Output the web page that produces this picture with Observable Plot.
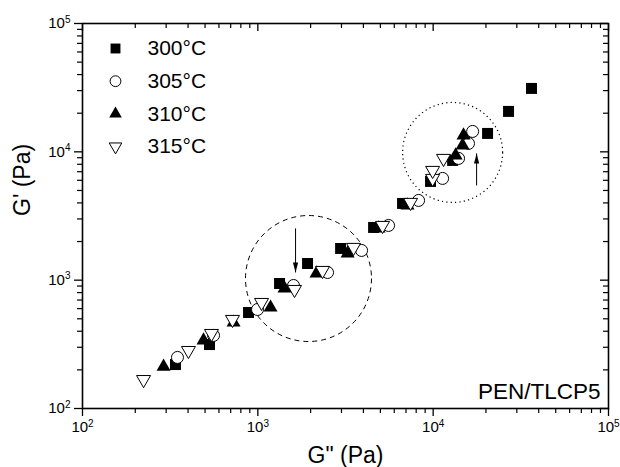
<!DOCTYPE html>
<html><head><meta charset="utf-8">
<script src="https://cdn.jsdelivr.net/npm/d3@7"></script>
<script src="https://cdn.jsdelivr.net/npm/@observablehq/plot@0.6"></script>
<style>body{margin:0;background:#fff} #chart{width:620px;height:467px}</style>
</head><body><div id="chart"></div>
<script>
// Series names
const seriesNames = ["300°C", "305°C", "310°C", "315°C"];

// G'' (x) and G' (y) values, Pa
const gpp300 = [339, 530, 885, 1330, 1921, 2965, 4573, 6689, 9660, 12910, 20430, 26910, 36380];
const gp300  = [220, 315, 560, 942, 1349, 1766, 2575, 3961, 5878, 8570, 13910, 20650, 31190];

const gpp305 = [348, 559, 996, 1598, 2498, 3906, 5567, 8258, 11320, 13960, 15910, 16790];
const gp305  = [250, 371, 591, 909, 1148, 1704, 2669, 4180, 6205, 8883, 11630, 14420];

const gpp310 = [290, 490, 727, 1182, 1420, 2162, 3250, 4885, 7143, 13430, 14720, 14900];
const gp310  = [212, 339, 468, 612, 862, 1128, 1615, 2530, 3822, 9380, 11220, 13420];

const gpp315 = [223, 402, 544, 717, 1050, 1619, 2339, 3515, 5143, 7432, 9930, 9930, 11460];
const gp315  = [168, 283, 384, 494, 670, 846, 1190, 1799, 2669, 4034, 6205, 7161, 8883];

// Axis ticks
const majorTicks = [1e2, 1e3, 1e4, 1e5];
const tickLabels = ["10^2", "10^3", "10^4", "10^5"];
const minorMultipliers = [2, 3, 4, 5, 6, 7, 8, 9];

// Texts
const xTitle = 'G" (Pa)';
const yTitle = "G' (Pa)";
const annotationLabel = "PEN/TLCP5";

// Annotations (data coordinates)
const dashedCircle = [{x: 1945, y: 1030}];
const dottedCircle = [{x: 12910, y: 9890}];
const downArrow = [{x: 1641, y1: 2530, y2: 1148}];
const upArrow = [{x: 17690, y1: 5470, y2: 9716}];

// ---- build ----
const minorTicks = [];
for (const d of majorTicks.slice(0, -1)) for (const m of minorMultipliers) minorTicks.push(d * m);

const triangleDown = {
  draw(ctx, size) {
    const y = -Math.sqrt(size / (Math.sqrt(3) * 3));
    ctx.moveTo(0, -y * 2);
    ctx.lineTo(-Math.sqrt(3) * y, y);
    ctx.lineTo(Math.sqrt(3) * y, y);
    ctx.closePath();
  }
};
// arrowheads with tip at the origin
const headDown = {draw(ctx) { ctx.moveTo(0, 0); ctx.lineTo(-2.6, -10); ctx.lineTo(2.6, -10); ctx.closePath(); }};
const headUp = {draw(ctx) { ctx.moveTo(0, 0); ctx.lineTo(-2.6, 10); ctx.lineTo(2.6, 10); ctx.closePath(); }};

const series = [
  {name: seriesNames[0], xs: gpp300, ys: gp300, symbol: "square", fill: "black", stroke: "none", r: 6.2},
  {name: seriesNames[1], xs: gpp305, ys: gp305, symbol: "circle", fill: "white", stroke: "black", r: 6},
  {name: seriesNames[2], xs: gpp310, ys: gp310, symbol: "triangle", fill: "black", stroke: "none", r: 5.2},
  {name: seriesNames[3], xs: gpp315, ys: gp315, symbol: triangleDown, fill: "white", stroke: "black", r: 5.2}
];

const W = 620, H = 467, mL = 82, mR = 12, mT = 23, mB = 59;
const plotW = W - mL - mR, plotH = H - mT - mB;
const fmt = d => tickLabels[majorTicks.indexOf(d)];

const marks = [
  Plot.axisX({ticks: majorTicks, tickSize: 8, tickPadding: 5, tickFormat: fmt, label: null, strokeWidth: 1.3}),
  Plot.axisX({ticks: minorTicks, tickSize: 5, tickFormat: () => "", label: null, strokeWidth: 1.2}),
  Plot.axisY({ticks: majorTicks, tickSize: 8, tickPadding: 4, tickFormat: fmt, label: null, strokeWidth: 1.3}),
  Plot.axisY({ticks: minorTicks, tickSize: 5, tickFormat: () => "", label: null, strokeWidth: 1.2}),
  Plot.tickX(majorTicks, {x: d => d, insetBottom: plotH - 8, stroke: "black", strokeWidth: 1.3}),
  Plot.tickX(minorTicks, {x: d => d, insetBottom: plotH - 5, stroke: "black", strokeWidth: 1.2}),
  Plot.tickY(majorTicks, {y: d => d, insetLeft: plotW - 8, stroke: "black", strokeWidth: 1.3}),
  Plot.tickY(minorTicks, {y: d => d, insetLeft: plotW - 5, stroke: "black", strokeWidth: 1.2}),
  Plot.frame({stroke: "black", strokeWidth: 1.6}),
  Plot.dot(dashedCircle, {x: "x", y: "y", r: 63, fill: "none", stroke: "black", strokeWidth: 1, strokeDasharray: "5,4"}),
  Plot.dot(dottedCircle, {x: "x", y: "y", r: 50, fill: "none", stroke: "black", strokeWidth: 1.2, strokeDasharray: "1.2,3.2"}),
  Plot.link(downArrow, {x1: "x", x2: "x", y1: "y1", y2: "y2", stroke: "black", strokeWidth: 1}),
  Plot.link(upArrow, {x1: "x", x2: "x", y1: "y1", y2: "y2", stroke: "black", strokeWidth: 1}),
  Plot.dot(downArrow, {x: "x", y: "y2", symbol: headDown, r: 3, fill: "black", stroke: "none"}),
  Plot.dot(upArrow, {x: "x", y: "y2", symbol: headUp, r: 3, fill: "black", stroke: "none"})
];

for (const s of series) {
  const rows = s.xs.map((x, i) => ({x, y: s.ys[i], series: s.name}));
  marks.push(Plot.dot(rows, {x: "x", y: "y", symbol: s.symbol, r: s.r, fill: s.fill, stroke: s.stroke, strokeWidth: 1}));
}

series.forEach((s, i) => {
  const dy = 25 + 32.7 * i;
  marks.push(Plot.dot([s.name], {frameAnchor: "top-left", dx: 33, dy, symbol: s.symbol, r: s.r * 0.9, fill: s.fill, stroke: s.stroke, strokeWidth: 1}));
  marks.push(Plot.text([s.name], {frameAnchor: "top-left", dx: 65, dy, text: d => d, textAnchor: "start", lineAnchor: "middle", fontSize: 21}));
});

marks.push(Plot.text([annotationLabel], {frameAnchor: "bottom-right", dx: -8, dy: -10, text: d => d, textAnchor: "end", lineAnchor: "bottom", fontSize: 22.5}));
marks.push(Plot.text([xTitle], {frameAnchor: "bottom", dy: 47, text: d => d, lineAnchor: "middle", fontSize: 23}));
marks.push(Plot.text([yTitle], {frameAnchor: "left", dx: -60, rotate: -90, text: d => d, lineAnchor: "middle", fontSize: 23}));

const chart = Plot.plot({
  width: W, height: H,
  marginLeft: mL, marginRight: mR, marginTop: mT, marginBottom: mB,
  x: {type: "log", domain: [1e2, 1e5], label: null},
  y: {type: "log", domain: [1e2, 1e5], label: null},
  style: {fontFamily: "'Liberation Sans', Arial, sans-serif", background: "white", color: "black", overflow: "visible"},
  marks
});

chart.querySelectorAll("text").forEach(el => {
  const m = /^10\^(\d+)$/.exec(el.textContent);
  if (!m) return;
  el.textContent = "";
  el.setAttribute("font-size", "15");
  const ns = "http://www.w3.org/2000/svg";
  const a = document.createElementNS(ns, "tspan");
  a.textContent = "10";
  const b = document.createElementNS(ns, "tspan");
  b.textContent = m[1];
  b.setAttribute("dy", "-0.55em");
  b.setAttribute("font-size", "10");
  el.appendChild(a); el.appendChild(b);
});

document.getElementById("chart").appendChild(chart);
</script>
</body></html>
